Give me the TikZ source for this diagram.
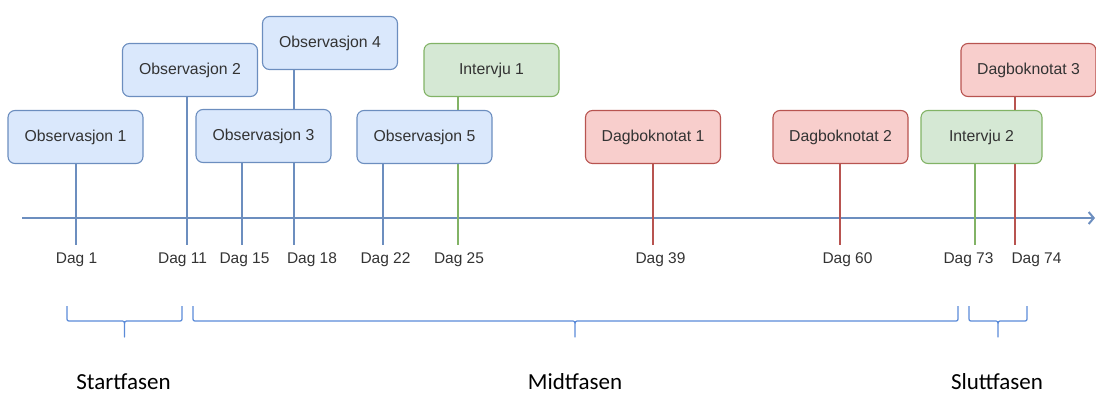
\documentclass[tikz,border=0pt]{standalone}
\usepackage{fontspec}
\setmainfont{Liberation Sans}
\newfontfamily\calfont{Carlito}
\usetikzlibrary{arrows.meta,backgrounds}
\definecolor{blafyll}{HTML}{DAE8FC}
\definecolor{blastrek}{HTML}{6C8EBF}
\definecolor{gronnfyll}{HTML}{D5E8D4}
\definecolor{gronnstrek}{HTML}{82B366}
\definecolor{rodfyll}{HTML}{F8CECC}
\definecolor{rodstrek}{HTML}{B85450}
\definecolor{klammefarge}{HTML}{5B8BD8}
\definecolor{tekst}{HTML}{333333}
\tikzset{
  boks/.style={draw, rounded corners=7pt, line width=1.1pt, minimum width=135pt,
    minimum height=53pt, inner sep=0pt, text=tekst, font=\fontsize{15.8}{18}\selectfont},
  obs/.style={boks, fill=blafyll, draw=blastrek},
  intv/.style={boks, fill=gronnfyll, draw=gronnstrek},
  dbn/.style={boks, fill=rodfyll, draw=rodstrek},
  dag/.style={anchor=base, inner sep=0pt, text=tekst, font=\fontsize{15.5}{18}\selectfont},
  fase/.style={anchor=base, inner sep=0pt, font=\calfont\fontsize{23}{27}\selectfont},
  strek/.style={line width=2pt},
  klamme/.style={klammefarge, line width=1.2pt, line join=round}
}
% curly brace: left x, tip x, right x
\newcommand\sveif[3]{%
  \draw[klamme] (#1,306) -- (#1,317) .. controls (#1,321) .. (#1+4,321) -- (#2-4,321)
    .. controls (#2,321) .. (#2,327) -- (#2,337) -- (#2,327) .. controls (#2,321) .. (#2+4,321)
    -- (#3-4,321) .. controls (#3,321) .. (#3,317) -- (#3,306);}

\begin{document}
\begin{tikzpicture}[x=1pt, y=-1pt]
\useasboundingbox (0,0) rectangle (1096,394);

\node[obs] (obs1) at (75.5,137) {Observasjon 1};
\node[obs] (obs2) at (190,70) {Observasjon 2};
\node[obs] (obs3) at (263.5,136) {Observasjon 3};
\node[obs] (obs4) at (330,43) {Observasjon 4};
\node[obs] (obs5) at (424.5,137) {Observasjon 5};
\node[intv] (int1) at (491.5,70) {Intervju 1};
\node[dbn] (dbn1) at (653,137) {Dagboknotat 1};
\node[dbn] (dbn2) at (840.5,137) {Dagboknotat 2};
\node[intv, minimum width=121pt] (int2) at (981.5,137) {Intervju 2};
\node[dbn] (dbn3) at (1028.5,70) {Dagboknotat 3};

\coordinate (aksestart) at (22,218);
\coordinate (akseslutt) at (1095,218);
\foreach \n/\x in {1/76, 11/187, 15/242, 18/294, 22/383, 25/458, 39/653, 60/840, 73/975, 74/1015}
  \coordinate (t\n) at (\x,245);

\begin{pgfonlayer}{background}
\draw[blastrek, strek, -{Straight Barb[length=5pt,width=12pt]}] (aksestart) -- (akseslutt);
\draw[strek, blastrek] (t1 |- obs1.south) -- (t1);
\draw[strek, blastrek] (t11 |- obs2.south) -- (t11);
\draw[strek, blastrek] (t15 |- obs3.south) -- (t15);
\draw[strek, blastrek] (t18 |- obs4.south) -- (t18);
\draw[strek, blastrek] (t22 |- obs5.south) -- (t22);
\draw[strek, gronnstrek] (t25 |- int1.south) -- (t25);
\draw[strek, rodstrek] (t39 |- dbn1.south) -- (t39);
\draw[strek, rodstrek] (t60 |- dbn2.south) -- (t60);
\draw[strek, gronnstrek] (t73 |- int2.south) -- (t73);
\draw[strek, rodstrek] (t74 |- dbn3.south) -- (t74);
\end{pgfonlayer}

\node[dag] (l1) at (76.5,263) {Dag 1};
\node[dag] (l11) at (182.5,263) {Dag 11};
\node[dag] (l15) at (244.5,263) {Dag 15};
\node[dag] (l18) at (312,263) {Dag 18};
\node[dag] (l22) at (385.5,263) {Dag 22};
\node[dag] (l25) at (459,263) {Dag 25};
\node[dag] (l39) at (660.5,263) {Dag 39};
\node[dag] (l60) at (847.5,263) {Dag 60};
\node[dag] (l73) at (968.5,263) {Dag 73};
\node[dag] (l74) at (1036.5,263) {Dag 74};

\sveif{67}{124.5}{182}
\sveif{193}{575}{958}
\sveif{969}{998}{1027}

\node[fase] (start) at (123.5,389) {Startfasen};
\node[fase] (midt) at (575,389) {Midtfasen};
\node[fase] (slutt) at (997,389) {Sluttfasen};
\end{tikzpicture}
\end{document}
